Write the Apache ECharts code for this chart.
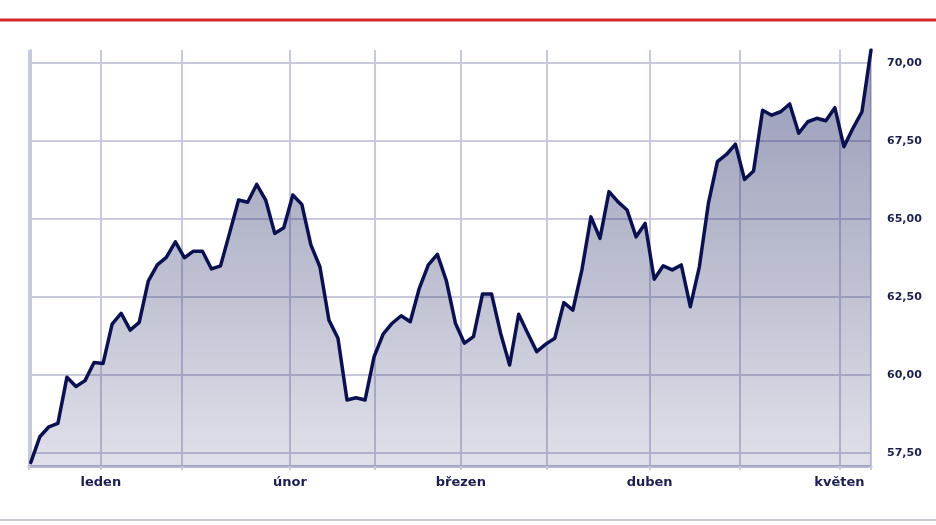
<!DOCTYPE html>
<html>
<head>
<meta charset="utf-8">
<script src="https://cdn.jsdelivr.net/npm/echarts@6/dist/echarts.min.js"></script>
<style>
  html, body { margin: 0; padding: 0; background: #ffffff; }
  #chart { width: 936px; height: 525px; }
</style>
</head>
<body>
<div id="chart"></div>
<script>
// Daily closing values (trading days, index 0..93)
const values = [
  57.20, 58.02, 58.34, 58.45, 59.93, 59.63, 59.82, 60.40, 60.37, 61.63,
  61.98, 61.44, 61.69, 63.01, 63.53, 63.77, 64.27, 63.76, 63.97, 63.97,
  63.40, 63.50, 64.55, 65.61, 65.54, 66.11, 65.61, 64.54, 64.72, 65.77,
  65.47, 64.17, 63.47, 61.76, 61.18, 59.20, 59.27, 59.20, 60.59, 61.31,
  61.66, 61.90, 61.71, 62.78, 63.53, 63.87, 63.02, 61.66, 61.02, 61.23,
  62.60, 62.60, 61.34, 60.32, 61.95, 61.34, 60.75, 60.99, 61.18, 62.32,
  62.08, 63.37, 65.07, 64.38, 65.88, 65.55, 65.29, 64.43, 64.86, 63.07,
  63.50, 63.37, 63.53, 62.19, 63.47, 65.50, 66.84, 67.07, 67.40, 66.27,
  66.54, 68.49, 68.33, 68.44, 68.69, 67.75, 68.12, 68.23, 68.15, 68.57,
  67.32, 67.91, 68.44, 70.42
];
// Vertical grid line positions (in trading-day index units)
const gridPositions = [-0.2, 7.75, 16.72, 28.68, 38.1, 47.6, 57.1, 68.5, 78.5, 89.5, 93];
// Month labels and their positions
const monthLabels = ['leden', 'únor', 'březen', 'duben', 'květen'];
const monthPositions = [7.75, 28.68, 47.6, 68.5, 89.5];
// Y axis tick values
const yTicks = [57.5, 60, 62.5, 65, 67.5, 70];

const seriesData = values.map((v, i) => [i, v]);

const gridColor = '#c9c9dd';
const textColor = '#1b1f4f';

const chart = echarts.init(document.getElementById('chart'), null, { renderer: 'canvas' });
chart.setOption({
  animation: false,
  backgroundColor: '#ffffff',
  grid: { left: 29, right: 65, top: 50, bottom: 59, containLabel: false },
  xAxis: {
    type: 'value',
    min: -0.2,
    max: 93,
    axisLine: { show: true, lineStyle: { color: '#b3b5cb', width: 3 } },
    axisTick: {
      show: true,
      customValues: gridPositions,
      length: 4,
      lineStyle: { color: gridColor, width: 2 }
    },
    splitLine: { show: true, lineStyle: { color: gridColor, width: 2 } },
    axisLabel: {
      customValues: monthPositions,
      formatter: function (val) {
        let best = 0, bd = Infinity;
        monthPositions.forEach((p, k) => { const d = Math.abs(p - val); if (d < bd) { bd = d; best = k; } });
        return monthLabels[best];
      },
      color: textColor,
      fontFamily: 'DejaVu Sans',
      fontWeight: 'bold',
      fontSize: 13,
      margin: 10
    }
  },
  yAxis: {
    type: 'value',
    position: 'right',
    min: 57.083,
    max: 70.42,
    axisLine: { show: true, lineStyle: { color: gridColor, width: 2 } },
    axisTick: {
      show: true,
      customValues: yTicks,
      length: 4,
      lineStyle: { color: gridColor, width: 2 }
    },
    splitLine: { show: true, lineStyle: { color: gridColor, width: 2 } },
    axisLabel: {
      customValues: yTicks,
      formatter: function (val) { return val.toFixed(2).replace('.', ','); },
      color: textColor,
      fontFamily: 'DejaVu Sans',
      fontWeight: 'bold',
      fontSize: 11,
      margin: 16
    }
  },
  series: [{
    type: 'line',
    data: seriesData,
    showSymbol: false,
    symbol: 'none',
    smooth: false,
    lineStyle: { color: '#0b1150', width: 3.5, join: 'round', cap: 'round' },
    areaStyle: {
      color: new echarts.graphic.LinearGradient(0, 0, 0, 1, [
        { offset: 0, color: 'rgba(26,34,96,0.66)' },
        { offset: 1, color: 'rgba(26,34,96,0.2)' }
      ])
    },
    z: 3
  }],
  graphic: [
    { type: 'rect', left: 0, top: 18.5, shape: { width: 936, height: 3 }, style: { fill: '#d6262c' }, silent: true },
    { type: 'rect', left: 0, top: 519, shape: { width: 936, height: 2 }, style: { fill: '#c6c6ce' }, silent: true }
  ]
});
</script>
</body>
</html>
